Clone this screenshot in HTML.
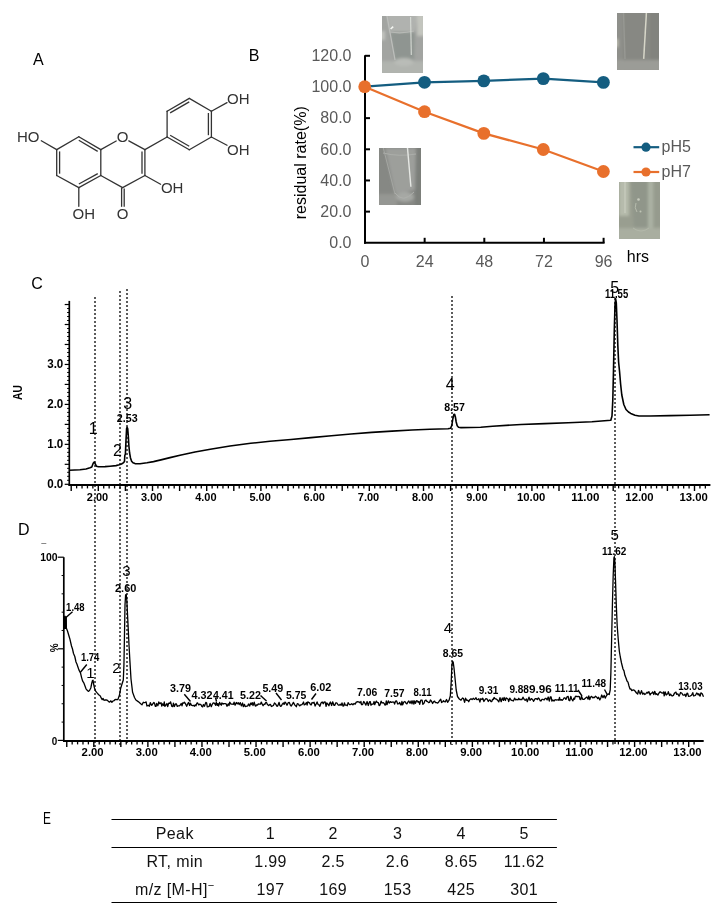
<!DOCTYPE html>
<html><head><meta charset="utf-8"><title>Figure</title>
<style>html,body{margin:0;padding:0;background:#fff;} svg{display:block;font-family:'Liberation Sans', Arial, sans-serif;}</style>
</head><body>
<svg width="719" height="919" viewBox="0 0 719 919">
<rect width="719" height="919" fill="#fff"/>
<text x="33.00" y="64.80" font-size="16" fill="#000" text-anchor="start" font-weight="normal" >A</text>
<line x1="78.80" y1="136.70" x2="100.80" y2="149.60" stroke="#333" stroke-width="1.3" stroke-linecap="round"/>
<line x1="100.80" y1="149.60" x2="100.80" y2="175.50" stroke="#333" stroke-width="1.3" stroke-linecap="round"/>
<line x1="100.80" y1="175.50" x2="78.80" y2="187.60" stroke="#333" stroke-width="1.3" stroke-linecap="round"/>
<line x1="78.80" y1="187.60" x2="56.70" y2="175.50" stroke="#333" stroke-width="1.3" stroke-linecap="round"/>
<line x1="56.70" y1="175.50" x2="56.70" y2="149.60" stroke="#333" stroke-width="1.3" stroke-linecap="round"/>
<line x1="56.70" y1="149.60" x2="78.80" y2="136.70" stroke="#333" stroke-width="1.3" stroke-linecap="round"/>
<line x1="59.60" y1="151.41" x2="59.60" y2="173.69" stroke="#333" stroke-width="1.3" />
<line x1="78.77" y1="140.28" x2="97.69" y2="151.37" stroke="#333" stroke-width="1.3" />
<line x1="78.85" y1="184.04" x2="97.77" y2="173.63" stroke="#333" stroke-width="1.3" />
<line x1="100.80" y1="149.60" x2="116.20" y2="141.00" stroke="#333" stroke-width="1.3" stroke-linecap="round"/>
<line x1="128.80" y1="140.90" x2="144.90" y2="149.60" stroke="#333" stroke-width="1.3" stroke-linecap="round"/>
<line x1="144.90" y1="149.60" x2="144.90" y2="175.50" stroke="#333" stroke-width="1.3" stroke-linecap="round"/>
<line x1="144.90" y1="175.50" x2="122.60" y2="187.60" stroke="#333" stroke-width="1.3" stroke-linecap="round"/>
<line x1="122.60" y1="187.60" x2="100.80" y2="175.50" stroke="#333" stroke-width="1.3" stroke-linecap="round"/>
<line x1="142.00" y1="151.41" x2="142.00" y2="173.69" stroke="#333" stroke-width="1.3" />
<line x1="121.60" y1="187.60" x2="121.60" y2="206.80" stroke="#333" stroke-width="1.3" />
<line x1="124.20" y1="188.60" x2="124.20" y2="206.80" stroke="#333" stroke-width="1.3" />
<line x1="167.10" y1="137.00" x2="167.10" y2="111.20" stroke="#333" stroke-width="1.3" stroke-linecap="round"/>
<line x1="167.10" y1="111.20" x2="189.30" y2="98.40" stroke="#333" stroke-width="1.3" stroke-linecap="round"/>
<line x1="189.30" y1="98.40" x2="211.40" y2="111.20" stroke="#333" stroke-width="1.3" stroke-linecap="round"/>
<line x1="211.40" y1="111.20" x2="211.40" y2="137.00" stroke="#333" stroke-width="1.3" stroke-linecap="round"/>
<line x1="211.40" y1="137.00" x2="189.30" y2="149.80" stroke="#333" stroke-width="1.3" stroke-linecap="round"/>
<line x1="189.30" y1="149.80" x2="167.10" y2="137.00" stroke="#333" stroke-width="1.3" stroke-linecap="round"/>
<line x1="170.15" y1="112.90" x2="189.24" y2="101.89" stroke="#333" stroke-width="1.3" />
<line x1="208.40" y1="113.01" x2="208.40" y2="135.19" stroke="#333" stroke-width="1.3" />
<line x1="189.24" y1="146.31" x2="170.15" y2="135.30" stroke="#333" stroke-width="1.3" />
<line x1="144.90" y1="149.60" x2="167.10" y2="137.00" stroke="#333" stroke-width="1.3" stroke-linecap="round"/>
<line x1="56.70" y1="149.60" x2="41.30" y2="140.80" stroke="#333" stroke-width="1.3" stroke-linecap="round"/>
<line x1="78.80" y1="187.60" x2="78.80" y2="206.30" stroke="#333" stroke-width="1.3" stroke-linecap="round"/>
<line x1="144.90" y1="175.50" x2="160.60" y2="184.30" stroke="#333" stroke-width="1.3" stroke-linecap="round"/>
<line x1="211.40" y1="111.20" x2="227.00" y2="102.60" stroke="#333" stroke-width="1.3" stroke-linecap="round"/>
<line x1="211.40" y1="137.00" x2="227.00" y2="145.30" stroke="#333" stroke-width="1.3" stroke-linecap="round"/>
<text x="17.00" y="142.40" font-size="15" fill="#333" text-anchor="start" font-weight="normal" >HO</text>
<text x="72.60" y="218.80" font-size="15" fill="#333" text-anchor="start" font-weight="normal" >OH</text>
<text x="122.50" y="141.90" font-size="15" fill="#333" text-anchor="middle" font-weight="normal" >O</text>
<text x="122.60" y="218.80" font-size="15" fill="#333" text-anchor="middle" font-weight="normal" >O</text>
<text x="160.90" y="193.10" font-size="15" fill="#333" text-anchor="start" font-weight="normal" >OH</text>
<text x="227.00" y="104.30" font-size="15" fill="#333" text-anchor="start" font-weight="normal" >OH</text>
<text x="227.00" y="155.10" font-size="15" fill="#333" text-anchor="start" font-weight="normal" >OH</text>
<text x="248.80" y="60.90" font-size="16" fill="#000" text-anchor="start" font-weight="normal" >B</text>
<defs><filter id="pb" x="-10%" y="-10%" width="120%" height="120%"><feGaussianBlur stdDeviation="0.7"/></filter><filter id="pb2" x="-10%" y="-10%" width="120%" height="120%"><feGaussianBlur stdDeviation="1.6"/></filter></defs>
<defs><clipPath id="cp1"><rect x="0" y="0" width="41" height="57"/></clipPath></defs>
<g transform="translate(382,16)" clip-path="url(#cp1)"><rect x="-2" y="-2" width="46" height="62" fill="#a2a4a1"/><g filter="url(#pb2)"><rect x="-2" y="15" width="5" height="9" fill="#c2c4c0"/><polygon points="5,-2 36,-2 33,16 8,16" fill="#b0b2af"/><polygon points="8,16 33,16 32,45 13,45" fill="#8f9591"/><rect x="35" y="-2" width="8" height="22" fill="#c3c5be"/><rect x="-2" y="45" width="46" height="14" fill="#b1b4af"/><ellipse cx="22" cy="46" rx="10" ry="4" fill="#b9bcb7"/></g><g filter="url(#pb)"><polyline points="5,0 13,44" fill="none" stroke="#bcbebb" stroke-width="1.3"/><path d="M8,16 Q20,18 32,15" fill="none" stroke="#b8bab6" stroke-width="1.2"/><polyline points="28.6,1 29.3,39" fill="none" stroke="#d8dcd6" stroke-width="1.1"/><polyline points="8.6,13 11.2,10.6" fill="none" stroke="#f4f6f2" stroke-width="1.6"/></g></g>
<defs><clipPath id="cp2"><rect x="0" y="0" width="42" height="57"/></clipPath></defs>
<g transform="translate(379,148)" clip-path="url(#cp2)"><rect x="-2" y="-2" width="47" height="62" fill="#868884"/><g filter="url(#pb2)"><rect x="36" y="-2" width="9" height="62" fill="#7c7f7a"/><polygon points="6,0 37,0 36,42 16,46" fill="#9d9f9b"/><rect x="-2" y="46" width="20" height="13" fill="#959793"/><ellipse cx="26" cy="49" rx="9" ry="5" fill="#a6a8a4"/></g><g filter="url(#pb)"><path d="M4,5 Q20,9 37,6" fill="none" stroke="#acaeaa" stroke-width="1.0"/><polyline points="4.3,0 16,46" fill="none" stroke="#a4a6a2" stroke-width="1.0"/><polyline points="28.5,0 31.9,38.8" fill="none" stroke="#e6e8e4" stroke-width="1.4"/><path d="M16,45 Q24,56 35,44" fill="none" stroke="#aeb0ac" stroke-width="1.0"/></g></g>
<defs><clipPath id="cp3"><rect x="0" y="0" width="42" height="57"/></clipPath></defs>
<g transform="translate(617,13)" clip-path="url(#cp3)"><rect x="-2" y="-2" width="47" height="62" fill="#878883"/><g filter="url(#pb2)"><rect x="-2" y="-2" width="8" height="62" fill="#8f908b"/><rect x="-2" y="26" width="3" height="8" fill="#c5c5b6"/><rect x="33" y="-2" width="11" height="62" fill="#82837e"/><rect x="-2" y="47" width="47" height="12" fill="#9b9c97"/></g><g filter="url(#pb)"><polyline points="6.5,0 8,46" fill="none" stroke="#979893" stroke-width="1.4"/><polyline points="29.4,0 26.7,45.9" fill="none" stroke="#d6d6c8" stroke-width="1.5"/></g></g>
<defs><clipPath id="cp4"><rect x="0" y="0" width="41" height="57"/></clipPath></defs>
<g transform="translate(619,182)" clip-path="url(#cp4)"><rect x="-2" y="-2" width="46" height="62" fill="#999e90"/><g filter="url(#pb2)"><rect x="0" y="-2" width="10" height="36" fill="#b6bbac"/><polygon points="12,-2 29,-2 29,46 15,46" fill="#90968a"/><rect x="29" y="-2" width="5" height="50" fill="#acb2a4"/><rect x="35" y="-2" width="9" height="50" fill="#969b8e"/><rect x="-2" y="46" width="46" height="13" fill="#a9aea0"/></g><g filter="url(#pb)"><polyline points="6,0 6,31" fill="none" stroke="#c6cbbc" stroke-width="1.4"/><circle cx="19.5" cy="17.5" r="1.3" fill="#c9cdbf"/><path d="M17,21 Q15,26 18,30" fill="none" stroke="#b6bbad" stroke-width="1"/><circle cx="21.5" cy="29.5" r="1" fill="#c0c5b6"/><path d="M14,46 Q22,52 30,46" fill="none" stroke="#b3b8aa" stroke-width="1"/></g></g>
<line x1="365.00" y1="55.30" x2="365.00" y2="243.80" stroke="#000" stroke-width="2.0" />
<line x1="364.00" y1="242.80" x2="604.60" y2="242.80" stroke="#000" stroke-width="2.0" />
<line x1="365.00" y1="211.63" x2="370.00" y2="211.63" stroke="#000" stroke-width="2.0" />
<line x1="365.00" y1="180.47" x2="370.00" y2="180.47" stroke="#000" stroke-width="2.0" />
<line x1="365.00" y1="149.30" x2="370.00" y2="149.30" stroke="#000" stroke-width="2.0" />
<line x1="365.00" y1="118.13" x2="370.00" y2="118.13" stroke="#000" stroke-width="2.0" />
<line x1="365.00" y1="86.97" x2="370.00" y2="86.97" stroke="#000" stroke-width="2.0" />
<line x1="365.00" y1="55.80" x2="370.00" y2="55.80" stroke="#000" stroke-width="2.0" />
<line x1="424.65" y1="242.80" x2="424.65" y2="237.80" stroke="#000" stroke-width="2.0" />
<line x1="484.30" y1="242.80" x2="484.30" y2="237.80" stroke="#000" stroke-width="2.0" />
<line x1="543.95" y1="242.80" x2="543.95" y2="237.80" stroke="#000" stroke-width="2.0" />
<line x1="603.60" y1="242.80" x2="603.60" y2="237.80" stroke="#000" stroke-width="2.0" />
<text x="351.50" y="248.10" font-size="16" fill="#595959" text-anchor="end" font-weight="normal" >0.0</text>
<text x="351.50" y="216.93" font-size="16" fill="#595959" text-anchor="end" font-weight="normal" >20.0</text>
<text x="351.50" y="185.77" font-size="16" fill="#595959" text-anchor="end" font-weight="normal" >40.0</text>
<text x="351.50" y="154.60" font-size="16" fill="#595959" text-anchor="end" font-weight="normal" >60.0</text>
<text x="351.50" y="123.43" font-size="16" fill="#595959" text-anchor="end" font-weight="normal" >80.0</text>
<text x="351.50" y="92.27" font-size="16" fill="#595959" text-anchor="end" font-weight="normal" >100.0</text>
<text x="351.50" y="61.10" font-size="16" fill="#595959" text-anchor="end" font-weight="normal" >120.0</text>
<text x="365.00" y="266.50" font-size="16" fill="#595959" text-anchor="middle" font-weight="normal" >0</text>
<text x="424.65" y="266.50" font-size="16" fill="#595959" text-anchor="middle" font-weight="normal" >24</text>
<text x="484.30" y="266.50" font-size="16" fill="#595959" text-anchor="middle" font-weight="normal" >48</text>
<text x="543.95" y="266.50" font-size="16" fill="#595959" text-anchor="middle" font-weight="normal" >72</text>
<text x="603.60" y="266.50" font-size="16" fill="#595959" text-anchor="middle" font-weight="normal" >96</text>
<text x="626.80" y="261.80" font-size="16" fill="#000" text-anchor="start" font-weight="normal" >hrs</text>
<text x="0" y="0" font-size="16" fill="#000" text-anchor="middle" transform="translate(306.2,162.75) rotate(-90)">residual rate(%)</text>
<polyline points="364.7,86.7 424.5,82.3 483.8,80.9 543.3,78.6 603.4,82.4" fill="none" stroke="#145d80" stroke-width="2.2"/>
<circle cx="424.5" cy="82.3" r="6.4" fill="#145d80"/>
<circle cx="483.8" cy="80.9" r="6.4" fill="#145d80"/>
<circle cx="543.3" cy="78.6" r="6.4" fill="#145d80"/>
<circle cx="603.4" cy="82.4" r="6.4" fill="#145d80"/>
<polyline points="364.7,86.7 424.5,111.7 483.8,133.4 543.3,149.5 603.4,171.5" fill="none" stroke="#e8702c" stroke-width="2.2"/>
<circle cx="364.7" cy="86.7" r="6.4" fill="#e8702c"/>
<circle cx="424.5" cy="111.7" r="6.4" fill="#e8702c"/>
<circle cx="483.8" cy="133.4" r="6.4" fill="#e8702c"/>
<circle cx="543.3" cy="149.5" r="6.4" fill="#e8702c"/>
<circle cx="603.4" cy="171.5" r="6.4" fill="#e8702c"/>
<line x1="633.50" y1="147.20" x2="659.20" y2="147.20" stroke="#145d80" stroke-width="2.2" />
<circle cx="646" cy="147.2" r="4.6" fill="#145d80"/>
<line x1="633.50" y1="172.00" x2="659.20" y2="172.00" stroke="#e8702c" stroke-width="2.2" />
<circle cx="646" cy="172.0" r="4.6" fill="#e8702c"/>
<text x="661.60" y="151.80" font-size="16" fill="#595959" text-anchor="start" font-weight="normal" >pH5</text>
<text x="661.60" y="177.40" font-size="16" fill="#595959" text-anchor="start" font-weight="normal" >pH7</text>
<text x="31.30" y="288.90" font-size="16" fill="#000" text-anchor="start" font-weight="normal" >C</text>
<line x1="95.0" y1="297" x2="95.0" y2="747" stroke="#5c5c5c" stroke-width="2" stroke-dasharray="2 2"/>
<line x1="120.0" y1="291" x2="120.0" y2="747" stroke="#5c5c5c" stroke-width="2" stroke-dasharray="2 2"/>
<line x1="127.0" y1="289" x2="127.0" y2="743" stroke="#5c5c5c" stroke-width="2" stroke-dasharray="2 2"/>
<line x1="452.0" y1="296" x2="452.0" y2="745" stroke="#5c5c5c" stroke-width="2" stroke-dasharray="2 2"/>
<line x1="615.0" y1="298" x2="615.0" y2="746" stroke="#5c5c5c" stroke-width="2" stroke-dasharray="2 2"/>
<line x1="69.30" y1="300.90" x2="69.30" y2="485.90" stroke="#000" stroke-width="1.7" />
<line x1="68.50" y1="485.00" x2="710.40" y2="485.00" stroke="#000" stroke-width="1.9" />
<line x1="64.70" y1="484.30" x2="69.30" y2="484.30" stroke="#000" stroke-width="1.2" />
<line x1="67.10" y1="480.31" x2="69.30" y2="480.31" stroke="#000" stroke-width="1.0" />
<line x1="67.10" y1="476.31" x2="69.30" y2="476.31" stroke="#000" stroke-width="1.0" />
<line x1="67.10" y1="472.31" x2="69.30" y2="472.31" stroke="#000" stroke-width="1.0" />
<line x1="67.10" y1="468.32" x2="69.30" y2="468.32" stroke="#000" stroke-width="1.0" />
<line x1="64.70" y1="464.32" x2="69.30" y2="464.32" stroke="#000" stroke-width="1.2" />
<line x1="67.10" y1="460.33" x2="69.30" y2="460.33" stroke="#000" stroke-width="1.0" />
<line x1="67.10" y1="456.34" x2="69.30" y2="456.34" stroke="#000" stroke-width="1.0" />
<line x1="67.10" y1="452.34" x2="69.30" y2="452.34" stroke="#000" stroke-width="1.0" />
<line x1="67.10" y1="448.35" x2="69.30" y2="448.35" stroke="#000" stroke-width="1.0" />
<line x1="64.70" y1="444.35" x2="69.30" y2="444.35" stroke="#000" stroke-width="1.2" />
<line x1="67.10" y1="440.36" x2="69.30" y2="440.36" stroke="#000" stroke-width="1.0" />
<line x1="67.10" y1="436.36" x2="69.30" y2="436.36" stroke="#000" stroke-width="1.0" />
<line x1="67.10" y1="432.37" x2="69.30" y2="432.37" stroke="#000" stroke-width="1.0" />
<line x1="67.10" y1="428.37" x2="69.30" y2="428.37" stroke="#000" stroke-width="1.0" />
<line x1="64.70" y1="424.38" x2="69.30" y2="424.38" stroke="#000" stroke-width="1.2" />
<line x1="67.10" y1="420.38" x2="69.30" y2="420.38" stroke="#000" stroke-width="1.0" />
<line x1="67.10" y1="416.38" x2="69.30" y2="416.38" stroke="#000" stroke-width="1.0" />
<line x1="67.10" y1="412.39" x2="69.30" y2="412.39" stroke="#000" stroke-width="1.0" />
<line x1="67.10" y1="408.39" x2="69.30" y2="408.39" stroke="#000" stroke-width="1.0" />
<line x1="64.70" y1="404.40" x2="69.30" y2="404.40" stroke="#000" stroke-width="1.2" />
<line x1="67.10" y1="400.40" x2="69.30" y2="400.40" stroke="#000" stroke-width="1.0" />
<line x1="67.10" y1="396.41" x2="69.30" y2="396.41" stroke="#000" stroke-width="1.0" />
<line x1="67.10" y1="392.41" x2="69.30" y2="392.41" stroke="#000" stroke-width="1.0" />
<line x1="67.10" y1="388.42" x2="69.30" y2="388.42" stroke="#000" stroke-width="1.0" />
<line x1="64.70" y1="384.42" x2="69.30" y2="384.42" stroke="#000" stroke-width="1.2" />
<line x1="67.10" y1="380.43" x2="69.30" y2="380.43" stroke="#000" stroke-width="1.0" />
<line x1="67.10" y1="376.43" x2="69.30" y2="376.43" stroke="#000" stroke-width="1.0" />
<line x1="67.10" y1="372.44" x2="69.30" y2="372.44" stroke="#000" stroke-width="1.0" />
<line x1="67.10" y1="368.44" x2="69.30" y2="368.44" stroke="#000" stroke-width="1.0" />
<line x1="64.70" y1="364.45" x2="69.30" y2="364.45" stroke="#000" stroke-width="1.2" />
<line x1="67.10" y1="360.45" x2="69.30" y2="360.45" stroke="#000" stroke-width="1.0" />
<line x1="67.10" y1="356.46" x2="69.30" y2="356.46" stroke="#000" stroke-width="1.0" />
<line x1="67.10" y1="352.46" x2="69.30" y2="352.46" stroke="#000" stroke-width="1.0" />
<line x1="67.10" y1="348.47" x2="69.30" y2="348.47" stroke="#000" stroke-width="1.0" />
<line x1="64.70" y1="344.47" x2="69.30" y2="344.47" stroke="#000" stroke-width="1.2" />
<line x1="67.10" y1="340.48" x2="69.30" y2="340.48" stroke="#000" stroke-width="1.0" />
<line x1="67.10" y1="336.48" x2="69.30" y2="336.48" stroke="#000" stroke-width="1.0" />
<line x1="67.10" y1="332.49" x2="69.30" y2="332.49" stroke="#000" stroke-width="1.0" />
<line x1="67.10" y1="328.49" x2="69.30" y2="328.49" stroke="#000" stroke-width="1.0" />
<line x1="64.70" y1="324.50" x2="69.30" y2="324.50" stroke="#000" stroke-width="1.2" />
<line x1="67.10" y1="320.50" x2="69.30" y2="320.50" stroke="#000" stroke-width="1.0" />
<line x1="67.10" y1="316.51" x2="69.30" y2="316.51" stroke="#000" stroke-width="1.0" />
<line x1="67.10" y1="312.51" x2="69.30" y2="312.51" stroke="#000" stroke-width="1.0" />
<line x1="67.10" y1="308.52" x2="69.30" y2="308.52" stroke="#000" stroke-width="1.0" />
<line x1="64.70" y1="304.52" x2="69.30" y2="304.52" stroke="#000" stroke-width="1.2" />
<text x="47.20" y="488.10" font-size="12" fill="#000" font-weight="bold" textLength="16.10" lengthAdjust="spacingAndGlyphs">0.0</text>
<text x="47.20" y="448.15" font-size="12" fill="#000" font-weight="bold" textLength="16.10" lengthAdjust="spacingAndGlyphs">1.0</text>
<text x="47.20" y="408.20" font-size="12" fill="#000" font-weight="bold" textLength="16.10" lengthAdjust="spacingAndGlyphs">2.0</text>
<text x="47.20" y="368.25" font-size="12" fill="#000" font-weight="bold" textLength="16.10" lengthAdjust="spacingAndGlyphs">3.0</text>
<text x="0" y="0" font-size="12" font-weight="bold" fill="#000" text-anchor="middle" textLength="15" lengthAdjust="spacingAndGlyphs" transform="translate(22.2,392.4) rotate(-90)">AU</text>
<line x1="71.20" y1="485.00" x2="71.20" y2="491.00" stroke="#000" stroke-width="1.4" />
<line x1="76.62" y1="485.00" x2="76.62" y2="488.40" stroke="#000" stroke-width="1.3" />
<line x1="82.04" y1="485.00" x2="82.04" y2="488.40" stroke="#000" stroke-width="1.3" />
<line x1="87.46" y1="485.00" x2="87.46" y2="488.40" stroke="#000" stroke-width="1.3" />
<line x1="92.88" y1="485.00" x2="92.88" y2="488.40" stroke="#000" stroke-width="1.3" />
<line x1="98.30" y1="485.00" x2="98.30" y2="491.00" stroke="#000" stroke-width="1.4" />
<line x1="103.72" y1="485.00" x2="103.72" y2="488.40" stroke="#000" stroke-width="1.3" />
<line x1="109.14" y1="485.00" x2="109.14" y2="488.40" stroke="#000" stroke-width="1.3" />
<line x1="114.56" y1="485.00" x2="114.56" y2="488.40" stroke="#000" stroke-width="1.3" />
<line x1="119.98" y1="485.00" x2="119.98" y2="488.40" stroke="#000" stroke-width="1.3" />
<line x1="125.40" y1="485.00" x2="125.40" y2="491.00" stroke="#000" stroke-width="1.4" />
<line x1="130.82" y1="485.00" x2="130.82" y2="488.40" stroke="#000" stroke-width="1.3" />
<line x1="136.24" y1="485.00" x2="136.24" y2="488.40" stroke="#000" stroke-width="1.3" />
<line x1="141.66" y1="485.00" x2="141.66" y2="488.40" stroke="#000" stroke-width="1.3" />
<line x1="147.08" y1="485.00" x2="147.08" y2="488.40" stroke="#000" stroke-width="1.3" />
<line x1="152.50" y1="485.00" x2="152.50" y2="491.00" stroke="#000" stroke-width="1.4" />
<line x1="157.92" y1="485.00" x2="157.92" y2="488.40" stroke="#000" stroke-width="1.3" />
<line x1="163.34" y1="485.00" x2="163.34" y2="488.40" stroke="#000" stroke-width="1.3" />
<line x1="168.76" y1="485.00" x2="168.76" y2="488.40" stroke="#000" stroke-width="1.3" />
<line x1="174.18" y1="485.00" x2="174.18" y2="488.40" stroke="#000" stroke-width="1.3" />
<line x1="179.60" y1="485.00" x2="179.60" y2="491.00" stroke="#000" stroke-width="1.4" />
<line x1="185.02" y1="485.00" x2="185.02" y2="488.40" stroke="#000" stroke-width="1.3" />
<line x1="190.44" y1="485.00" x2="190.44" y2="488.40" stroke="#000" stroke-width="1.3" />
<line x1="195.86" y1="485.00" x2="195.86" y2="488.40" stroke="#000" stroke-width="1.3" />
<line x1="201.28" y1="485.00" x2="201.28" y2="488.40" stroke="#000" stroke-width="1.3" />
<line x1="206.70" y1="485.00" x2="206.70" y2="491.00" stroke="#000" stroke-width="1.4" />
<line x1="212.12" y1="485.00" x2="212.12" y2="488.40" stroke="#000" stroke-width="1.3" />
<line x1="217.54" y1="485.00" x2="217.54" y2="488.40" stroke="#000" stroke-width="1.3" />
<line x1="222.96" y1="485.00" x2="222.96" y2="488.40" stroke="#000" stroke-width="1.3" />
<line x1="228.38" y1="485.00" x2="228.38" y2="488.40" stroke="#000" stroke-width="1.3" />
<line x1="233.80" y1="485.00" x2="233.80" y2="491.00" stroke="#000" stroke-width="1.4" />
<line x1="239.22" y1="485.00" x2="239.22" y2="488.40" stroke="#000" stroke-width="1.3" />
<line x1="244.64" y1="485.00" x2="244.64" y2="488.40" stroke="#000" stroke-width="1.3" />
<line x1="250.06" y1="485.00" x2="250.06" y2="488.40" stroke="#000" stroke-width="1.3" />
<line x1="255.48" y1="485.00" x2="255.48" y2="488.40" stroke="#000" stroke-width="1.3" />
<line x1="260.90" y1="485.00" x2="260.90" y2="491.00" stroke="#000" stroke-width="1.4" />
<line x1="266.32" y1="485.00" x2="266.32" y2="488.40" stroke="#000" stroke-width="1.3" />
<line x1="271.74" y1="485.00" x2="271.74" y2="488.40" stroke="#000" stroke-width="1.3" />
<line x1="277.16" y1="485.00" x2="277.16" y2="488.40" stroke="#000" stroke-width="1.3" />
<line x1="282.58" y1="485.00" x2="282.58" y2="488.40" stroke="#000" stroke-width="1.3" />
<line x1="288.00" y1="485.00" x2="288.00" y2="491.00" stroke="#000" stroke-width="1.4" />
<line x1="293.42" y1="485.00" x2="293.42" y2="488.40" stroke="#000" stroke-width="1.3" />
<line x1="298.84" y1="485.00" x2="298.84" y2="488.40" stroke="#000" stroke-width="1.3" />
<line x1="304.26" y1="485.00" x2="304.26" y2="488.40" stroke="#000" stroke-width="1.3" />
<line x1="309.68" y1="485.00" x2="309.68" y2="488.40" stroke="#000" stroke-width="1.3" />
<line x1="315.10" y1="485.00" x2="315.10" y2="491.00" stroke="#000" stroke-width="1.4" />
<line x1="320.52" y1="485.00" x2="320.52" y2="488.40" stroke="#000" stroke-width="1.3" />
<line x1="325.94" y1="485.00" x2="325.94" y2="488.40" stroke="#000" stroke-width="1.3" />
<line x1="331.36" y1="485.00" x2="331.36" y2="488.40" stroke="#000" stroke-width="1.3" />
<line x1="336.78" y1="485.00" x2="336.78" y2="488.40" stroke="#000" stroke-width="1.3" />
<line x1="342.20" y1="485.00" x2="342.20" y2="491.00" stroke="#000" stroke-width="1.4" />
<line x1="347.62" y1="485.00" x2="347.62" y2="488.40" stroke="#000" stroke-width="1.3" />
<line x1="353.04" y1="485.00" x2="353.04" y2="488.40" stroke="#000" stroke-width="1.3" />
<line x1="358.46" y1="485.00" x2="358.46" y2="488.40" stroke="#000" stroke-width="1.3" />
<line x1="363.88" y1="485.00" x2="363.88" y2="488.40" stroke="#000" stroke-width="1.3" />
<line x1="369.30" y1="485.00" x2="369.30" y2="491.00" stroke="#000" stroke-width="1.4" />
<line x1="374.72" y1="485.00" x2="374.72" y2="488.40" stroke="#000" stroke-width="1.3" />
<line x1="380.14" y1="485.00" x2="380.14" y2="488.40" stroke="#000" stroke-width="1.3" />
<line x1="385.56" y1="485.00" x2="385.56" y2="488.40" stroke="#000" stroke-width="1.3" />
<line x1="390.98" y1="485.00" x2="390.98" y2="488.40" stroke="#000" stroke-width="1.3" />
<line x1="396.40" y1="485.00" x2="396.40" y2="491.00" stroke="#000" stroke-width="1.4" />
<line x1="401.82" y1="485.00" x2="401.82" y2="488.40" stroke="#000" stroke-width="1.3" />
<line x1="407.24" y1="485.00" x2="407.24" y2="488.40" stroke="#000" stroke-width="1.3" />
<line x1="412.66" y1="485.00" x2="412.66" y2="488.40" stroke="#000" stroke-width="1.3" />
<line x1="418.08" y1="485.00" x2="418.08" y2="488.40" stroke="#000" stroke-width="1.3" />
<line x1="423.50" y1="485.00" x2="423.50" y2="491.00" stroke="#000" stroke-width="1.4" />
<line x1="428.92" y1="485.00" x2="428.92" y2="488.40" stroke="#000" stroke-width="1.3" />
<line x1="434.34" y1="485.00" x2="434.34" y2="488.40" stroke="#000" stroke-width="1.3" />
<line x1="439.76" y1="485.00" x2="439.76" y2="488.40" stroke="#000" stroke-width="1.3" />
<line x1="445.18" y1="485.00" x2="445.18" y2="488.40" stroke="#000" stroke-width="1.3" />
<line x1="450.60" y1="485.00" x2="450.60" y2="491.00" stroke="#000" stroke-width="1.4" />
<line x1="456.02" y1="485.00" x2="456.02" y2="488.40" stroke="#000" stroke-width="1.3" />
<line x1="461.44" y1="485.00" x2="461.44" y2="488.40" stroke="#000" stroke-width="1.3" />
<line x1="466.86" y1="485.00" x2="466.86" y2="488.40" stroke="#000" stroke-width="1.3" />
<line x1="472.28" y1="485.00" x2="472.28" y2="488.40" stroke="#000" stroke-width="1.3" />
<line x1="477.70" y1="485.00" x2="477.70" y2="491.00" stroke="#000" stroke-width="1.4" />
<line x1="483.12" y1="485.00" x2="483.12" y2="488.40" stroke="#000" stroke-width="1.3" />
<line x1="488.54" y1="485.00" x2="488.54" y2="488.40" stroke="#000" stroke-width="1.3" />
<line x1="493.96" y1="485.00" x2="493.96" y2="488.40" stroke="#000" stroke-width="1.3" />
<line x1="499.38" y1="485.00" x2="499.38" y2="488.40" stroke="#000" stroke-width="1.3" />
<line x1="504.80" y1="485.00" x2="504.80" y2="491.00" stroke="#000" stroke-width="1.4" />
<line x1="510.22" y1="485.00" x2="510.22" y2="488.40" stroke="#000" stroke-width="1.3" />
<line x1="515.64" y1="485.00" x2="515.64" y2="488.40" stroke="#000" stroke-width="1.3" />
<line x1="521.06" y1="485.00" x2="521.06" y2="488.40" stroke="#000" stroke-width="1.3" />
<line x1="526.48" y1="485.00" x2="526.48" y2="488.40" stroke="#000" stroke-width="1.3" />
<line x1="531.90" y1="485.00" x2="531.90" y2="491.00" stroke="#000" stroke-width="1.4" />
<line x1="537.32" y1="485.00" x2="537.32" y2="488.40" stroke="#000" stroke-width="1.3" />
<line x1="542.74" y1="485.00" x2="542.74" y2="488.40" stroke="#000" stroke-width="1.3" />
<line x1="548.16" y1="485.00" x2="548.16" y2="488.40" stroke="#000" stroke-width="1.3" />
<line x1="553.58" y1="485.00" x2="553.58" y2="488.40" stroke="#000" stroke-width="1.3" />
<line x1="559.00" y1="485.00" x2="559.00" y2="491.00" stroke="#000" stroke-width="1.4" />
<line x1="564.42" y1="485.00" x2="564.42" y2="488.40" stroke="#000" stroke-width="1.3" />
<line x1="569.84" y1="485.00" x2="569.84" y2="488.40" stroke="#000" stroke-width="1.3" />
<line x1="575.26" y1="485.00" x2="575.26" y2="488.40" stroke="#000" stroke-width="1.3" />
<line x1="580.68" y1="485.00" x2="580.68" y2="488.40" stroke="#000" stroke-width="1.3" />
<line x1="586.10" y1="485.00" x2="586.10" y2="491.00" stroke="#000" stroke-width="1.4" />
<line x1="591.52" y1="485.00" x2="591.52" y2="488.40" stroke="#000" stroke-width="1.3" />
<line x1="596.94" y1="485.00" x2="596.94" y2="488.40" stroke="#000" stroke-width="1.3" />
<line x1="602.36" y1="485.00" x2="602.36" y2="488.40" stroke="#000" stroke-width="1.3" />
<line x1="607.78" y1="485.00" x2="607.78" y2="488.40" stroke="#000" stroke-width="1.3" />
<line x1="613.20" y1="485.00" x2="613.20" y2="491.00" stroke="#000" stroke-width="1.4" />
<line x1="618.62" y1="485.00" x2="618.62" y2="488.40" stroke="#000" stroke-width="1.3" />
<line x1="624.04" y1="485.00" x2="624.04" y2="488.40" stroke="#000" stroke-width="1.3" />
<line x1="629.46" y1="485.00" x2="629.46" y2="488.40" stroke="#000" stroke-width="1.3" />
<line x1="634.88" y1="485.00" x2="634.88" y2="488.40" stroke="#000" stroke-width="1.3" />
<line x1="640.30" y1="485.00" x2="640.30" y2="491.00" stroke="#000" stroke-width="1.4" />
<line x1="645.72" y1="485.00" x2="645.72" y2="488.40" stroke="#000" stroke-width="1.3" />
<line x1="651.14" y1="485.00" x2="651.14" y2="488.40" stroke="#000" stroke-width="1.3" />
<line x1="656.56" y1="485.00" x2="656.56" y2="488.40" stroke="#000" stroke-width="1.3" />
<line x1="661.98" y1="485.00" x2="661.98" y2="488.40" stroke="#000" stroke-width="1.3" />
<line x1="667.40" y1="485.00" x2="667.40" y2="491.00" stroke="#000" stroke-width="1.4" />
<line x1="672.82" y1="485.00" x2="672.82" y2="488.40" stroke="#000" stroke-width="1.3" />
<line x1="678.24" y1="485.00" x2="678.24" y2="488.40" stroke="#000" stroke-width="1.3" />
<line x1="683.66" y1="485.00" x2="683.66" y2="488.40" stroke="#000" stroke-width="1.3" />
<line x1="689.08" y1="485.00" x2="689.08" y2="488.40" stroke="#000" stroke-width="1.3" />
<line x1="694.50" y1="485.00" x2="694.50" y2="491.00" stroke="#000" stroke-width="1.4" />
<line x1="699.92" y1="485.00" x2="699.92" y2="488.40" stroke="#000" stroke-width="1.3" />
<line x1="705.34" y1="485.00" x2="705.34" y2="488.40" stroke="#000" stroke-width="1.3" />
<text x="86.80" y="500.90" font-size="11" fill="#000" font-weight="bold" textLength="21.40" lengthAdjust="spacingAndGlyphs">2.00</text>
<text x="141.00" y="500.90" font-size="11" fill="#000" font-weight="bold" textLength="21.40" lengthAdjust="spacingAndGlyphs">3.00</text>
<text x="195.20" y="500.90" font-size="11" fill="#000" font-weight="bold" textLength="21.40" lengthAdjust="spacingAndGlyphs">4.00</text>
<text x="249.40" y="500.90" font-size="11" fill="#000" font-weight="bold" textLength="21.40" lengthAdjust="spacingAndGlyphs">5.00</text>
<text x="303.60" y="500.90" font-size="11" fill="#000" font-weight="bold" textLength="21.40" lengthAdjust="spacingAndGlyphs">6.00</text>
<text x="357.80" y="500.90" font-size="11" fill="#000" font-weight="bold" textLength="21.40" lengthAdjust="spacingAndGlyphs">7.00</text>
<text x="412.00" y="500.90" font-size="11" fill="#000" font-weight="bold" textLength="21.40" lengthAdjust="spacingAndGlyphs">8.00</text>
<text x="466.20" y="500.90" font-size="11" fill="#000" font-weight="bold" textLength="21.40" lengthAdjust="spacingAndGlyphs">9.00</text>
<text x="516.95" y="500.90" font-size="11" fill="#000" font-weight="bold" textLength="28.30" lengthAdjust="spacingAndGlyphs">10.00</text>
<text x="571.15" y="500.90" font-size="11" fill="#000" font-weight="bold" textLength="28.30" lengthAdjust="spacingAndGlyphs">11.00</text>
<text x="625.35" y="500.90" font-size="11" fill="#000" font-weight="bold" textLength="28.30" lengthAdjust="spacingAndGlyphs">12.00</text>
<text x="679.55" y="500.90" font-size="11" fill="#000" font-weight="bold" textLength="28.30" lengthAdjust="spacingAndGlyphs">13.00</text>
<polyline points="69.3,470.3 80.0,469.7 86.0,469.0 90.0,467.8 91.8,467.0 93.2,463.2 94.2,462.0 95.0,463.4 96.4,466.2 98.5,466.8 105.0,466.6 110.0,466.2 116.0,465.6 119.3,464.8 121.5,464.0 123.6,462.6 124.5,461.5 124.8,455.5 125.4,454.0 126.0,440.0 126.6,428.5 127.1,427.3 127.7,428.5 128.3,436.0 128.9,446.0 129.6,453.0 130.5,458.0 131.6,461.2 133.0,462.8 135.0,463.6 140.0,463.7 147.0,462.8 153.5,461.6 162.0,459.6 170.0,457.6 180.0,455.2 195.0,452.0 210.3,449.2 230.0,446.0 250.7,443.3 270.0,441.3 291.0,439.5 311.0,437.6 331.4,435.7 351.0,434.0 371.7,432.4 392.0,431.1 412.0,430.0 430.0,429.3 448.0,428.7 450.5,428.3 451.8,425.5 452.8,419.0 453.8,414.6 454.6,414.3 455.4,417.0 456.2,422.0 457.2,425.8 458.5,427.2 461.0,427.6 480.7,427.3 492.6,426.2 521.0,424.5 544.6,423.6 568.2,422.7 591.9,421.8 610.8,420.3 612.0,416.0 612.8,400.0 613.5,370.0 614.3,330.0 615.0,305.0 615.6,298.6 616.3,303.0 617.0,320.0 617.8,345.0 618.6,362.0 619.6,372.0 620.6,384.0 621.8,395.0 623.8,404.5 626.0,409.5 628.5,412.0 630.7,413.4 635.0,415.2 639.0,416.0 650.0,416.0 670.0,415.6 690.0,415.2 709.6,414.8" fill="none" stroke="#000" stroke-width="1.6" stroke-linejoin="round"/>
<text x="93.20" y="433.90" font-size="16" fill="#000" text-anchor="middle" font-weight="normal" >1</text>
<text x="117.50" y="456.10" font-size="16" fill="#000" text-anchor="middle" font-weight="normal" >2</text>
<text x="127.60" y="409.00" font-size="16" fill="#000" text-anchor="middle" font-weight="normal" >3</text>
<text x="450.30" y="389.60" font-size="16" fill="#000" text-anchor="middle" font-weight="normal" >4</text>
<text x="614.70" y="293.20" font-size="16" fill="#000" text-anchor="middle" font-weight="normal" >5</text>
<text x="116.80" y="421.80" font-size="11" fill="#000" font-weight="bold" textLength="20.80" lengthAdjust="spacingAndGlyphs">2.53</text>
<text x="444.20" y="410.60" font-size="11" fill="#000" font-weight="bold" textLength="20.60" lengthAdjust="spacingAndGlyphs">8.57</text>
<text x="604.90" y="298.40" font-size="12" fill="#000" font-weight="bold" textLength="23.30" lengthAdjust="spacingAndGlyphs">11.55</text>
<text x="17.90" y="534.90" font-size="16" fill="#000" text-anchor="start" font-weight="normal" >D</text>
<line x1="41.30" y1="543.50" x2="46.30" y2="543.50" stroke="#888" stroke-width="1.0" />
<line x1="63.80" y1="557.20" x2="63.80" y2="741.90" stroke="#000" stroke-width="1.7" />
<line x1="63.00" y1="741.00" x2="703.70" y2="741.00" stroke="#000" stroke-width="1.9" />
<line x1="57.80" y1="740.40" x2="63.80" y2="740.40" stroke="#000" stroke-width="1.2" />
<line x1="61.60" y1="722.08" x2="63.80" y2="722.08" stroke="#000" stroke-width="1.0" />
<line x1="61.60" y1="703.76" x2="63.80" y2="703.76" stroke="#000" stroke-width="1.0" />
<line x1="61.60" y1="685.44" x2="63.80" y2="685.44" stroke="#000" stroke-width="1.0" />
<line x1="61.60" y1="667.12" x2="63.80" y2="667.12" stroke="#000" stroke-width="1.0" />
<line x1="57.80" y1="648.80" x2="63.80" y2="648.80" stroke="#000" stroke-width="1.2" />
<line x1="61.60" y1="630.48" x2="63.80" y2="630.48" stroke="#000" stroke-width="1.0" />
<line x1="61.60" y1="612.16" x2="63.80" y2="612.16" stroke="#000" stroke-width="1.0" />
<line x1="61.60" y1="593.84" x2="63.80" y2="593.84" stroke="#000" stroke-width="1.0" />
<line x1="61.60" y1="575.52" x2="63.80" y2="575.52" stroke="#000" stroke-width="1.0" />
<line x1="57.80" y1="557.20" x2="63.80" y2="557.20" stroke="#000" stroke-width="1.2" />
<text x="40.20" y="561.40" font-size="11.5" fill="#000" font-weight="bold" textLength="17.40" lengthAdjust="spacingAndGlyphs">100</text>
<text x="51.80" y="744.60" font-size="11.5" fill="#000" font-weight="bold" textLength="5.50" lengthAdjust="spacingAndGlyphs">0</text>
<text x="0" y="0" font-size="10" font-weight="bold" fill="#000" text-anchor="middle" transform="translate(58.2,647.8) rotate(-90)">%</text>
<line x1="66.76" y1="741.00" x2="66.76" y2="747.00" stroke="#000" stroke-width="1.4" />
<line x1="72.17" y1="741.00" x2="72.17" y2="744.40" stroke="#000" stroke-width="1.3" />
<line x1="77.58" y1="741.00" x2="77.58" y2="744.40" stroke="#000" stroke-width="1.3" />
<line x1="82.98" y1="741.00" x2="82.98" y2="744.40" stroke="#000" stroke-width="1.3" />
<line x1="88.39" y1="741.00" x2="88.39" y2="744.40" stroke="#000" stroke-width="1.3" />
<line x1="93.80" y1="741.00" x2="93.80" y2="747.00" stroke="#000" stroke-width="1.4" />
<line x1="99.21" y1="741.00" x2="99.21" y2="744.40" stroke="#000" stroke-width="1.3" />
<line x1="104.62" y1="741.00" x2="104.62" y2="744.40" stroke="#000" stroke-width="1.3" />
<line x1="110.02" y1="741.00" x2="110.02" y2="744.40" stroke="#000" stroke-width="1.3" />
<line x1="115.43" y1="741.00" x2="115.43" y2="744.40" stroke="#000" stroke-width="1.3" />
<line x1="120.84" y1="741.00" x2="120.84" y2="747.00" stroke="#000" stroke-width="1.4" />
<line x1="126.25" y1="741.00" x2="126.25" y2="744.40" stroke="#000" stroke-width="1.3" />
<line x1="131.66" y1="741.00" x2="131.66" y2="744.40" stroke="#000" stroke-width="1.3" />
<line x1="137.06" y1="741.00" x2="137.06" y2="744.40" stroke="#000" stroke-width="1.3" />
<line x1="142.47" y1="741.00" x2="142.47" y2="744.40" stroke="#000" stroke-width="1.3" />
<line x1="147.88" y1="741.00" x2="147.88" y2="747.00" stroke="#000" stroke-width="1.4" />
<line x1="153.29" y1="741.00" x2="153.29" y2="744.40" stroke="#000" stroke-width="1.3" />
<line x1="158.70" y1="741.00" x2="158.70" y2="744.40" stroke="#000" stroke-width="1.3" />
<line x1="164.10" y1="741.00" x2="164.10" y2="744.40" stroke="#000" stroke-width="1.3" />
<line x1="169.51" y1="741.00" x2="169.51" y2="744.40" stroke="#000" stroke-width="1.3" />
<line x1="174.92" y1="741.00" x2="174.92" y2="747.00" stroke="#000" stroke-width="1.4" />
<line x1="180.33" y1="741.00" x2="180.33" y2="744.40" stroke="#000" stroke-width="1.3" />
<line x1="185.74" y1="741.00" x2="185.74" y2="744.40" stroke="#000" stroke-width="1.3" />
<line x1="191.14" y1="741.00" x2="191.14" y2="744.40" stroke="#000" stroke-width="1.3" />
<line x1="196.55" y1="741.00" x2="196.55" y2="744.40" stroke="#000" stroke-width="1.3" />
<line x1="201.96" y1="741.00" x2="201.96" y2="747.00" stroke="#000" stroke-width="1.4" />
<line x1="207.37" y1="741.00" x2="207.37" y2="744.40" stroke="#000" stroke-width="1.3" />
<line x1="212.78" y1="741.00" x2="212.78" y2="744.40" stroke="#000" stroke-width="1.3" />
<line x1="218.18" y1="741.00" x2="218.18" y2="744.40" stroke="#000" stroke-width="1.3" />
<line x1="223.59" y1="741.00" x2="223.59" y2="744.40" stroke="#000" stroke-width="1.3" />
<line x1="229.00" y1="741.00" x2="229.00" y2="747.00" stroke="#000" stroke-width="1.4" />
<line x1="234.41" y1="741.00" x2="234.41" y2="744.40" stroke="#000" stroke-width="1.3" />
<line x1="239.82" y1="741.00" x2="239.82" y2="744.40" stroke="#000" stroke-width="1.3" />
<line x1="245.22" y1="741.00" x2="245.22" y2="744.40" stroke="#000" stroke-width="1.3" />
<line x1="250.63" y1="741.00" x2="250.63" y2="744.40" stroke="#000" stroke-width="1.3" />
<line x1="256.04" y1="741.00" x2="256.04" y2="747.00" stroke="#000" stroke-width="1.4" />
<line x1="261.45" y1="741.00" x2="261.45" y2="744.40" stroke="#000" stroke-width="1.3" />
<line x1="266.86" y1="741.00" x2="266.86" y2="744.40" stroke="#000" stroke-width="1.3" />
<line x1="272.26" y1="741.00" x2="272.26" y2="744.40" stroke="#000" stroke-width="1.3" />
<line x1="277.67" y1="741.00" x2="277.67" y2="744.40" stroke="#000" stroke-width="1.3" />
<line x1="283.08" y1="741.00" x2="283.08" y2="747.00" stroke="#000" stroke-width="1.4" />
<line x1="288.49" y1="741.00" x2="288.49" y2="744.40" stroke="#000" stroke-width="1.3" />
<line x1="293.90" y1="741.00" x2="293.90" y2="744.40" stroke="#000" stroke-width="1.3" />
<line x1="299.30" y1="741.00" x2="299.30" y2="744.40" stroke="#000" stroke-width="1.3" />
<line x1="304.71" y1="741.00" x2="304.71" y2="744.40" stroke="#000" stroke-width="1.3" />
<line x1="310.12" y1="741.00" x2="310.12" y2="747.00" stroke="#000" stroke-width="1.4" />
<line x1="315.53" y1="741.00" x2="315.53" y2="744.40" stroke="#000" stroke-width="1.3" />
<line x1="320.94" y1="741.00" x2="320.94" y2="744.40" stroke="#000" stroke-width="1.3" />
<line x1="326.34" y1="741.00" x2="326.34" y2="744.40" stroke="#000" stroke-width="1.3" />
<line x1="331.75" y1="741.00" x2="331.75" y2="744.40" stroke="#000" stroke-width="1.3" />
<line x1="337.16" y1="741.00" x2="337.16" y2="747.00" stroke="#000" stroke-width="1.4" />
<line x1="342.57" y1="741.00" x2="342.57" y2="744.40" stroke="#000" stroke-width="1.3" />
<line x1="347.98" y1="741.00" x2="347.98" y2="744.40" stroke="#000" stroke-width="1.3" />
<line x1="353.38" y1="741.00" x2="353.38" y2="744.40" stroke="#000" stroke-width="1.3" />
<line x1="358.79" y1="741.00" x2="358.79" y2="744.40" stroke="#000" stroke-width="1.3" />
<line x1="364.20" y1="741.00" x2="364.20" y2="747.00" stroke="#000" stroke-width="1.4" />
<line x1="369.61" y1="741.00" x2="369.61" y2="744.40" stroke="#000" stroke-width="1.3" />
<line x1="375.02" y1="741.00" x2="375.02" y2="744.40" stroke="#000" stroke-width="1.3" />
<line x1="380.42" y1="741.00" x2="380.42" y2="744.40" stroke="#000" stroke-width="1.3" />
<line x1="385.83" y1="741.00" x2="385.83" y2="744.40" stroke="#000" stroke-width="1.3" />
<line x1="391.24" y1="741.00" x2="391.24" y2="747.00" stroke="#000" stroke-width="1.4" />
<line x1="396.65" y1="741.00" x2="396.65" y2="744.40" stroke="#000" stroke-width="1.3" />
<line x1="402.06" y1="741.00" x2="402.06" y2="744.40" stroke="#000" stroke-width="1.3" />
<line x1="407.46" y1="741.00" x2="407.46" y2="744.40" stroke="#000" stroke-width="1.3" />
<line x1="412.87" y1="741.00" x2="412.87" y2="744.40" stroke="#000" stroke-width="1.3" />
<line x1="418.28" y1="741.00" x2="418.28" y2="747.00" stroke="#000" stroke-width="1.4" />
<line x1="423.69" y1="741.00" x2="423.69" y2="744.40" stroke="#000" stroke-width="1.3" />
<line x1="429.10" y1="741.00" x2="429.10" y2="744.40" stroke="#000" stroke-width="1.3" />
<line x1="434.50" y1="741.00" x2="434.50" y2="744.40" stroke="#000" stroke-width="1.3" />
<line x1="439.91" y1="741.00" x2="439.91" y2="744.40" stroke="#000" stroke-width="1.3" />
<line x1="445.32" y1="741.00" x2="445.32" y2="747.00" stroke="#000" stroke-width="1.4" />
<line x1="450.73" y1="741.00" x2="450.73" y2="744.40" stroke="#000" stroke-width="1.3" />
<line x1="456.14" y1="741.00" x2="456.14" y2="744.40" stroke="#000" stroke-width="1.3" />
<line x1="461.54" y1="741.00" x2="461.54" y2="744.40" stroke="#000" stroke-width="1.3" />
<line x1="466.95" y1="741.00" x2="466.95" y2="744.40" stroke="#000" stroke-width="1.3" />
<line x1="472.36" y1="741.00" x2="472.36" y2="747.00" stroke="#000" stroke-width="1.4" />
<line x1="477.77" y1="741.00" x2="477.77" y2="744.40" stroke="#000" stroke-width="1.3" />
<line x1="483.18" y1="741.00" x2="483.18" y2="744.40" stroke="#000" stroke-width="1.3" />
<line x1="488.58" y1="741.00" x2="488.58" y2="744.40" stroke="#000" stroke-width="1.3" />
<line x1="493.99" y1="741.00" x2="493.99" y2="744.40" stroke="#000" stroke-width="1.3" />
<line x1="499.40" y1="741.00" x2="499.40" y2="747.00" stroke="#000" stroke-width="1.4" />
<line x1="504.81" y1="741.00" x2="504.81" y2="744.40" stroke="#000" stroke-width="1.3" />
<line x1="510.22" y1="741.00" x2="510.22" y2="744.40" stroke="#000" stroke-width="1.3" />
<line x1="515.62" y1="741.00" x2="515.62" y2="744.40" stroke="#000" stroke-width="1.3" />
<line x1="521.03" y1="741.00" x2="521.03" y2="744.40" stroke="#000" stroke-width="1.3" />
<line x1="526.44" y1="741.00" x2="526.44" y2="747.00" stroke="#000" stroke-width="1.4" />
<line x1="531.85" y1="741.00" x2="531.85" y2="744.40" stroke="#000" stroke-width="1.3" />
<line x1="537.26" y1="741.00" x2="537.26" y2="744.40" stroke="#000" stroke-width="1.3" />
<line x1="542.66" y1="741.00" x2="542.66" y2="744.40" stroke="#000" stroke-width="1.3" />
<line x1="548.07" y1="741.00" x2="548.07" y2="744.40" stroke="#000" stroke-width="1.3" />
<line x1="553.48" y1="741.00" x2="553.48" y2="747.00" stroke="#000" stroke-width="1.4" />
<line x1="558.89" y1="741.00" x2="558.89" y2="744.40" stroke="#000" stroke-width="1.3" />
<line x1="564.30" y1="741.00" x2="564.30" y2="744.40" stroke="#000" stroke-width="1.3" />
<line x1="569.70" y1="741.00" x2="569.70" y2="744.40" stroke="#000" stroke-width="1.3" />
<line x1="575.11" y1="741.00" x2="575.11" y2="744.40" stroke="#000" stroke-width="1.3" />
<line x1="580.52" y1="741.00" x2="580.52" y2="747.00" stroke="#000" stroke-width="1.4" />
<line x1="585.93" y1="741.00" x2="585.93" y2="744.40" stroke="#000" stroke-width="1.3" />
<line x1="591.34" y1="741.00" x2="591.34" y2="744.40" stroke="#000" stroke-width="1.3" />
<line x1="596.74" y1="741.00" x2="596.74" y2="744.40" stroke="#000" stroke-width="1.3" />
<line x1="602.15" y1="741.00" x2="602.15" y2="744.40" stroke="#000" stroke-width="1.3" />
<line x1="607.56" y1="741.00" x2="607.56" y2="747.00" stroke="#000" stroke-width="1.4" />
<line x1="612.97" y1="741.00" x2="612.97" y2="744.40" stroke="#000" stroke-width="1.3" />
<line x1="618.38" y1="741.00" x2="618.38" y2="744.40" stroke="#000" stroke-width="1.3" />
<line x1="623.78" y1="741.00" x2="623.78" y2="744.40" stroke="#000" stroke-width="1.3" />
<line x1="629.19" y1="741.00" x2="629.19" y2="744.40" stroke="#000" stroke-width="1.3" />
<line x1="634.60" y1="741.00" x2="634.60" y2="747.00" stroke="#000" stroke-width="1.4" />
<line x1="640.01" y1="741.00" x2="640.01" y2="744.40" stroke="#000" stroke-width="1.3" />
<line x1="645.42" y1="741.00" x2="645.42" y2="744.40" stroke="#000" stroke-width="1.3" />
<line x1="650.82" y1="741.00" x2="650.82" y2="744.40" stroke="#000" stroke-width="1.3" />
<line x1="656.23" y1="741.00" x2="656.23" y2="744.40" stroke="#000" stroke-width="1.3" />
<line x1="661.64" y1="741.00" x2="661.64" y2="747.00" stroke="#000" stroke-width="1.4" />
<line x1="667.05" y1="741.00" x2="667.05" y2="744.40" stroke="#000" stroke-width="1.3" />
<line x1="672.46" y1="741.00" x2="672.46" y2="744.40" stroke="#000" stroke-width="1.3" />
<line x1="677.86" y1="741.00" x2="677.86" y2="744.40" stroke="#000" stroke-width="1.3" />
<line x1="683.27" y1="741.00" x2="683.27" y2="744.40" stroke="#000" stroke-width="1.3" />
<line x1="688.68" y1="741.00" x2="688.68" y2="747.00" stroke="#000" stroke-width="1.4" />
<line x1="694.09" y1="741.00" x2="694.09" y2="744.40" stroke="#000" stroke-width="1.3" />
<text x="81.60" y="755.60" font-size="11" fill="#000" font-weight="bold" textLength="22.00" lengthAdjust="spacingAndGlyphs">2.00</text>
<text x="135.68" y="755.60" font-size="11" fill="#000" font-weight="bold" textLength="22.00" lengthAdjust="spacingAndGlyphs">3.00</text>
<text x="189.76" y="755.60" font-size="11" fill="#000" font-weight="bold" textLength="22.00" lengthAdjust="spacingAndGlyphs">4.00</text>
<text x="243.84" y="755.60" font-size="11" fill="#000" font-weight="bold" textLength="22.00" lengthAdjust="spacingAndGlyphs">5.00</text>
<text x="297.92" y="755.60" font-size="11" fill="#000" font-weight="bold" textLength="22.00" lengthAdjust="spacingAndGlyphs">6.00</text>
<text x="352.00" y="755.60" font-size="11" fill="#000" font-weight="bold" textLength="22.00" lengthAdjust="spacingAndGlyphs">7.00</text>
<text x="406.08" y="755.60" font-size="11" fill="#000" font-weight="bold" textLength="22.00" lengthAdjust="spacingAndGlyphs">8.00</text>
<text x="460.16" y="755.60" font-size="11" fill="#000" font-weight="bold" textLength="22.00" lengthAdjust="spacingAndGlyphs">9.00</text>
<text x="511.14" y="755.60" font-size="11" fill="#000" font-weight="bold" textLength="28.20" lengthAdjust="spacingAndGlyphs">10.00</text>
<text x="565.22" y="755.60" font-size="11" fill="#000" font-weight="bold" textLength="28.20" lengthAdjust="spacingAndGlyphs">11.00</text>
<text x="619.30" y="755.60" font-size="11" fill="#000" font-weight="bold" textLength="28.20" lengthAdjust="spacingAndGlyphs">12.00</text>
<text x="673.38" y="755.60" font-size="11" fill="#000" font-weight="bold" textLength="28.20" lengthAdjust="spacingAndGlyphs">13.00</text>
<polyline points="64.3,617.0 65.0,616.2 65.8,619.0 66.3,628.0 67.5,631.0 69.8,638.7 71.5,646.0 72.5,649.0 73.5,653.5 74.8,656.5 76.0,662.0 77.0,664.3 78.0,667.2 79.0,670.1 80.5,673.0 81.6,677.6 82.7,681.2 83.8,682.8 85.0,686.0 86.0,688.8 87.0,690.0 88.3,691.4 89.5,690.5 90.8,688.0 91.8,683.0 92.5,680.5 93.0,680.2 93.6,684.0 94.5,688.0 95.5,690.8 96.6,692.3 97.8,693.7 99.0,695.0 100.1,695.7 101.2,697.9 102.2,699.6 103.1,698.5 104.0,700.3 105.0,700.0 106.2,699.8 107.4,700.3 108.6,701.6 109.7,702.1 110.8,700.8 111.9,702.3 113.0,701.0 114.0,700.7 114.9,699.7 115.9,699.5 116.8,699.7 117.8,699.7 119.5,695.0 120.6,688.6 122.0,684.0 123.3,680.0 123.9,666.0 124.4,640.0 125.0,605.0 125.6,595.0 126.2,594.4 126.8,600.0 127.4,612.0 128.0,624.0 129.0,645.0 129.9,660.9 131.0,679.0 132.6,692.3 134.5,697.5 135.9,700.0 138.2,701.6 141.0,704.0 142.0,704.8 143.3,702.3 144.1,702.7 145.4,702.3 146.1,701.9 146.9,706.0 148.2,705.2 149.4,706.2 150.3,702.6 151.5,705.3 152.2,704.9 153.0,703.5 153.9,702.5 154.5,703.1 155.3,706.3 156.0,706.4 156.7,703.5 157.9,705.7 158.8,702.0 159.7,703.6 161.0,702.7 161.8,706.1 162.5,703.8 163.6,705.5 164.3,702.0 164.9,706.3 165.7,705.4 166.9,703.5 167.7,706.5 168.7,703.1 169.8,703.4 170.6,701.9 171.8,706.3 172.8,706.5 173.4,703.1 174.4,706.5 175.6,703.8 176.4,704.0 177.3,706.4 178.1,705.8 179.2,705.9 180.3,704.9 181.2,703.5 182.0,705.8 182.7,703.0 183.8,703.2 184.4,702.2 185.4,703.6 186.7,706.3 188.0,703.3 188.7,702.5 189.6,705.5 190.5,703.2 191.4,705.1 192.5,705.7 193.7,705.3 194.4,706.2 195.2,704.9 196.0,705.7 196.8,703.4 197.5,702.9 198.8,705.0 199.6,704.1 200.9,704.6 201.6,706.1 202.7,706.9 203.4,704.5 204.5,706.2 205.8,702.4 206.6,702.8 207.3,706.8 208.3,706.6 209.2,706.3 210.1,703.4 211.3,706.7 211.9,705.0 213.0,703.2 213.8,702.8 214.6,703.4 215.6,705.3 216.3,702.2 217.2,705.4 217.9,703.6 218.6,706.0 219.6,702.4 220.3,704.0 221.3,705.2 221.9,702.9 223.0,704.1 223.8,703.6 225.1,703.6 226.1,703.8 227.0,706.3 228.3,703.9 229.0,705.6 229.7,702.1 231.0,704.1 232.2,704.1 233.4,704.3 234.1,702.2 235.1,705.2 236.3,702.5 237.3,703.9 238.3,702.8 239.1,704.6 240.3,702.6 241.3,705.9 242.6,703.0 243.3,706.6 244.5,704.4 245.2,706.5 246.0,706.4 247.1,706.0 247.8,705.8 248.5,704.0 249.7,706.0 250.5,703.1 251.3,704.5 252.2,702.6 253.0,705.5 254.2,702.2 255.2,705.7 255.8,706.1 256.5,704.9 257.5,705.0 258.3,704.0 259.3,704.1 260.4,704.2 261.3,702.1 262.3,704.4 263.1,705.7 264.2,704.2 265.0,704.3 265.6,702.6 266.5,702.4 267.4,704.4 268.1,705.0 268.7,705.5 269.9,704.4 270.5,704.4 271.4,706.5 272.1,706.1 273.4,705.5 274.5,702.9 275.8,704.3 277.1,706.4 277.8,705.7 279.1,702.3 279.9,705.6 280.6,706.3 281.4,705.9 282.1,704.4 283.4,702.9 284.1,704.4 285.0,702.1 285.7,702.7 287.0,705.2 288.2,702.7 289.3,702.5 290.3,705.0 291.2,706.1 292.1,704.7 293.4,702.4 294.7,704.9 295.5,705.7 296.3,706.7 297.3,703.6 298.5,704.0 299.2,705.5 299.8,705.8 300.6,705.0 301.9,704.7 302.9,703.4 303.5,702.0 304.2,704.8 305.2,704.3 306.4,702.5 307.1,705.0 307.8,701.9 308.6,702.4 309.5,702.9 310.5,704.7 311.2,704.9 312.1,702.5 313.4,703.0 314.1,702.3 315.1,706.0 316.3,703.8 317.1,701.9 318.1,704.5 319.0,704.9 319.9,706.3 321.0,703.0 322.2,702.0 323.2,703.8 324.0,702.1 325.1,701.9 326.1,706.3 326.8,702.8 327.8,704.2 328.9,705.7 329.6,703.3 330.4,702.0 331.6,705.5 332.7,701.8 333.9,705.3 334.8,705.3 335.8,702.8 336.4,702.8 337.1,703.3 338.2,705.0 339.4,705.1 340.2,704.3 341.1,705.4 342.0,702.9 343.1,706.2 343.8,705.8 344.4,702.8 345.2,705.1 346.5,705.1 347.3,705.7 348.1,702.6 349.4,704.5 350.5,704.6 351.7,703.7 352.9,704.8 354.1,703.5 355.2,704.1 356.1,702.4 357.1,701.7 358.3,702.0 358.9,701.8 360.2,702.9 360.9,701.4 361.5,704.6 362.6,704.6 363.7,701.5 364.7,702.9 365.9,705.1 367.1,701.5 368.3,705.5 369.6,701.6 370.3,701.6 370.9,705.2 372.1,704.1 373.3,704.1 374.1,701.5 374.7,704.7 375.5,702.6 376.4,701.1 377.2,702.3 378.3,702.7 379.1,705.6 380.0,705.0 381.1,701.1 382.0,703.0 383.1,702.6 384.2,703.5 384.9,705.0 385.6,704.8 386.3,700.8 387.1,704.5 388.4,700.8 389.3,703.1 390.5,701.6 391.4,702.4 392.6,702.0 393.8,702.1 394.6,704.1 395.5,701.2 396.6,701.0 397.7,704.0 398.9,703.6 399.7,702.5 400.6,704.8 401.3,704.8 401.9,701.5 402.7,704.8 403.6,702.3 404.9,701.5 405.8,702.9 406.9,703.9 408.0,701.9 408.8,701.0 410.0,703.3 411.1,700.9 412.0,703.8 413.0,700.6 413.9,704.2 414.7,700.9 415.5,703.3 416.7,700.6 417.4,701.0 418.2,702.3 418.9,701.4 419.7,704.4 420.8,700.2 422.1,700.1 422.9,704.3 424.1,703.1 425.0,700.5 426.0,700.0 426.8,701.3 427.4,701.3 428.6,702.7 429.5,702.4 430.4,700.0 431.5,701.2 432.6,703.5 433.5,701.9 434.6,701.1 435.4,702.5 436.6,702.7 437.7,703.1 438.7,702.0 439.7,700.4 440.7,699.3 441.6,702.5 442.7,701.8 443.5,700.7 444.4,701.7 445.3,701.9 446.5,699.5 447.6,702.3 448.5,700.8 449.0,700.4 450.3,696.0 451.2,682.0 451.9,665.0 452.5,661.4 453.2,662.0 454.0,668.0 455.0,678.0 456.2,690.0 457.5,696.5 459.3,699.0 461.0,700.2 462.5,698.0 463.5,698.6 464.6,702.3 465.6,698.2 466.6,700.3 467.7,700.2 468.7,701.7 469.7,699.7 471.0,698.7 472.1,699.6 473.2,698.3 474.5,699.4 475.1,699.0 476.0,697.7 476.9,699.7 478.0,699.3 478.8,698.7 479.9,702.1 480.8,698.7 482.0,699.5 482.8,698.2 483.9,701.5 484.9,699.8 485.9,698.6 487.2,699.2 488.3,701.5 489.4,699.8 490.2,700.1 490.9,701.5 491.8,701.6 492.6,699.3 493.3,699.5 494.1,697.5 495.2,698.8 495.9,698.9 496.9,699.5 497.9,700.6 498.8,701.9 500.0,697.7 501.2,701.7 502.3,698.0 503.5,700.4 504.1,697.4 505.4,700.5 506.1,697.8 506.8,698.4 508.0,699.0 508.7,701.6 509.8,698.1 511.1,700.2 512.2,700.5 513.4,701.0 514.6,698.2 515.7,699.8 516.8,699.3 518.1,699.8 518.8,698.3 519.5,699.5 520.2,699.4 520.9,699.5 521.8,699.7 523.0,697.2 524.2,699.4 525.2,700.3 526.4,698.9 527.3,701.7 527.9,700.1 529.0,697.2 530.0,700.3 531.3,698.6 532.6,699.5 533.5,701.3 534.1,700.4 535.2,698.6 536.4,698.7 537.3,699.5 538.4,698.0 539.3,699.0 540.3,700.9 541.1,700.9 542.0,699.3 542.8,699.3 544.1,700.0 545.2,698.4 546.1,698.3 547.1,699.9 548.2,697.0 549.3,701.1 550.3,697.0 551.1,696.8 551.9,701.2 552.9,699.9 554.0,701.1 555.1,699.6 556.1,700.0 557.1,699.9 557.9,699.8 558.8,700.2 559.5,697.4 560.1,700.2 561.3,699.6 562.2,700.4 563.3,699.1 564.1,697.9 565.0,697.9 565.9,699.4 567.2,696.6 568.2,696.5 568.8,700.2 569.8,700.7 570.8,696.3 571.6,699.0 572.9,700.9 573.8,698.1 574.5,699.2 575.2,696.8 575.8,696.1 576.9,696.6 578.2,696.4 579.4,696.6 580.0,699.4 580.8,699.5 581.5,696.2 582.7,699.3 583.9,699.4 584.5,698.9 585.6,698.0 586.9,697.0 588.1,699.2 588.8,695.8 589.8,699.6 590.5,697.2 591.6,696.4 592.8,697.9 593.4,697.3 594.4,697.7 595.5,696.2 596.7,697.2 597.7,698.5 598.6,697.3 599.8,699.9 600.9,697.8 601.7,695.0 603.0,697.6 604.2,695.4 605.2,698.1 606.4,695.8 607.2,694.7 608.4,693.9 609.2,694.5 610.2,690.0 610.9,672.0 611.6,640.0 612.4,605.0 613.2,575.0 613.9,558.0 614.3,556.6 614.8,560.0 615.5,580.0 616.3,605.0 617.2,626.0 618.3,640.0 619.3,651.0 620.3,657.0 621.5,663.0 623.0,669.0 624.0,670.9 624.9,675.3 626.0,678.0 627.0,681.0 628.0,682.1 629.0,686.0 630.0,689.0 631.0,689.0 631.8,690.6 632.6,690.2 633.4,690.0 634.2,690.1 635.0,691.0 636.5,693.0 637.7,694.0 638.5,690.3 639.3,692.3 640.3,694.1 641.5,690.6 642.7,694.2 643.9,693.1 644.7,694.5 645.9,693.7 647.1,692.2 647.8,693.2 648.9,691.6 650.1,695.0 650.8,693.6 651.9,693.0 652.7,692.0 653.8,694.5 654.7,691.3 655.9,694.5 656.6,693.7 657.9,695.1 658.8,693.3 659.8,692.0 660.6,692.0 661.7,692.9 662.7,693.1 663.6,692.0 664.2,695.9 665.1,691.8 666.2,695.0 666.9,694.1 667.7,693.8 668.3,691.6 669.6,695.5 670.6,694.1 671.3,695.2 672.2,696.0 673.4,695.4 674.6,692.9 675.3,692.6 676.0,692.1 676.6,694.3 677.8,693.9 679.1,696.1 679.8,694.6 680.6,692.5 681.9,693.2 682.9,695.0 684.2,695.1 685.0,694.2 685.8,696.6 687.0,693.2 687.7,693.4 688.5,696.4 689.8,696.1 690.4,695.9 691.5,695.3 692.8,692.7 693.5,695.9 694.7,695.6 695.5,695.2 696.7,693.0 697.5,693.8 698.2,694.8 698.9,693.7 699.6,695.8 700.2,696.0 700.9,692.9 702.2,693.8 703.5,696.8" fill="none" stroke="#000" stroke-width="1.3" stroke-linejoin="round"/>
<rect x="63.9" y="616.5" width="3.0" height="12.5" fill="#000"/>
<line x1="64.80" y1="618.50" x2="72.50" y2="611.80" stroke="#000" stroke-width="1.4" />
<line x1="80.20" y1="672.50" x2="86.80" y2="664.50" stroke="#000" stroke-width="1.4" />
<line x1="184.30" y1="694.20" x2="190.50" y2="701.50" stroke="#000" stroke-width="1.4" />
<line x1="215.50" y1="697.50" x2="216.50" y2="701.50" stroke="#000" stroke-width="1.4" />
<line x1="260.50" y1="695.50" x2="266.50" y2="701.00" stroke="#000" stroke-width="1.4" />
<line x1="276.00" y1="693.00" x2="281.50" y2="700.00" stroke="#000" stroke-width="1.4" />
<line x1="316.00" y1="693.50" x2="311.50" y2="699.50" stroke="#000" stroke-width="1.4" />
<line x1="578.00" y1="690.00" x2="582.00" y2="696.00" stroke="#000" stroke-width="1.4" />
<line x1="604.50" y1="689.50" x2="607.50" y2="695.00" stroke="#000" stroke-width="1.4" />
<text x="90.30" y="678.20" font-size="15" fill="#000" text-anchor="middle" font-weight="normal" >1</text>
<text x="116.50" y="673.30" font-size="15" fill="#000" text-anchor="middle" font-weight="normal" >2</text>
<text x="126.50" y="575.50" font-size="15" fill="#000" text-anchor="middle" font-weight="normal" >3</text>
<text x="447.90" y="632.80" font-size="15" fill="#000" text-anchor="middle" font-weight="normal" >4</text>
<text x="614.60" y="539.80" font-size="15" fill="#000" text-anchor="middle" font-weight="normal" >5</text>
<text x="66.10" y="610.60" font-size="10.5" fill="#000" font-weight="bold" textLength="18.50" lengthAdjust="spacingAndGlyphs">1.48</text>
<text x="80.90" y="661.40" font-size="10.5" fill="#000" font-weight="bold" textLength="18.50" lengthAdjust="spacingAndGlyphs">1.74</text>
<text x="115.00" y="592.10" font-size="10.5" fill="#000" font-weight="bold" textLength="21.30" lengthAdjust="spacingAndGlyphs">2.60</text>
<text x="170.10" y="692.20" font-size="10.5" fill="#000" font-weight="bold" textLength="20.90" lengthAdjust="spacingAndGlyphs">3.79</text>
<text x="191.50" y="698.80" font-size="10.5" fill="#000" font-weight="bold" textLength="21.00" lengthAdjust="spacingAndGlyphs">4.32</text>
<text x="213.00" y="698.80" font-size="10.5" fill="#000" font-weight="bold" textLength="20.50" lengthAdjust="spacingAndGlyphs">4.41</text>
<text x="240.10" y="698.60" font-size="10.5" fill="#000" font-weight="bold" textLength="20.90" lengthAdjust="spacingAndGlyphs">5.22</text>
<text x="262.40" y="692.20" font-size="10.5" fill="#000" font-weight="bold" textLength="20.90" lengthAdjust="spacingAndGlyphs">5.49</text>
<text x="286.00" y="698.60" font-size="10.5" fill="#000" font-weight="bold" textLength="20.30" lengthAdjust="spacingAndGlyphs">5.75</text>
<text x="310.20" y="691.40" font-size="10.5" fill="#000" font-weight="bold" textLength="21.20" lengthAdjust="spacingAndGlyphs">6.02</text>
<text x="357.00" y="695.80" font-size="10.5" fill="#000" font-weight="bold" textLength="20.30" lengthAdjust="spacingAndGlyphs">7.06</text>
<text x="384.20" y="696.60" font-size="10.5" fill="#000" font-weight="bold" textLength="20.30" lengthAdjust="spacingAndGlyphs">7.57</text>
<text x="413.40" y="696.10" font-size="10.5" fill="#000" font-weight="bold" textLength="18.10" lengthAdjust="spacingAndGlyphs">8.11</text>
<text x="442.70" y="657.40" font-size="10.5" fill="#000" font-weight="bold" textLength="20.30" lengthAdjust="spacingAndGlyphs">8.65</text>
<text x="478.80" y="693.60" font-size="10.5" fill="#000" font-weight="bold" textLength="19.50" lengthAdjust="spacingAndGlyphs">9.31</text>
<text x="509.40" y="693.20" font-size="10.5" fill="#000" font-weight="bold" textLength="19.50" lengthAdjust="spacingAndGlyphs">9.88</text>
<text x="529.00" y="693.20" font-size="10.5" fill="#000" font-weight="bold" textLength="22.80" lengthAdjust="spacingAndGlyphs">9.96</text>
<text x="554.80" y="691.70" font-size="10.5" fill="#000" font-weight="bold" textLength="23.80" lengthAdjust="spacingAndGlyphs">11.11</text>
<text x="581.60" y="686.50" font-size="10.5" fill="#000" font-weight="bold" textLength="24.40" lengthAdjust="spacingAndGlyphs">11.48</text>
<text x="602.00" y="554.60" font-size="10.5" fill="#000" font-weight="bold" textLength="24.40" lengthAdjust="spacingAndGlyphs">11.62</text>
<text x="678.20" y="689.60" font-size="10.5" fill="#000" font-weight="bold" textLength="24.40" lengthAdjust="spacingAndGlyphs">13.03</text>
<text x="43.0" y="824.2" font-size="16.5" fill="#000" transform="translate(43.0,0) scale(0.72,1) translate(-43.0,0)">E</text>
<line x1="111.50" y1="819.50" x2="556.90" y2="819.50" stroke="#000" stroke-width="1.1" />
<line x1="111.50" y1="847.50" x2="556.90" y2="847.50" stroke="#000" stroke-width="1.1" />
<line x1="111.50" y1="902.50" x2="556.90" y2="902.50" stroke="#000" stroke-width="1.1" />
<text x="174.80" y="839.20" font-size="16" fill="#111" text-anchor="middle" font-weight="normal" letter-spacing="0.4">Peak</text>
<text x="270.50" y="839.20" font-size="16" fill="#111" text-anchor="middle" font-weight="normal" letter-spacing="0.4">1</text>
<text x="333.20" y="839.20" font-size="16" fill="#111" text-anchor="middle" font-weight="normal" letter-spacing="0.4">2</text>
<text x="397.60" y="839.20" font-size="16" fill="#111" text-anchor="middle" font-weight="normal" letter-spacing="0.4">3</text>
<text x="461.20" y="839.20" font-size="16" fill="#111" text-anchor="middle" font-weight="normal" letter-spacing="0.4">4</text>
<text x="524.20" y="839.20" font-size="16" fill="#111" text-anchor="middle" font-weight="normal" letter-spacing="0.4">5</text>
<text x="174.80" y="866.60" font-size="16" fill="#111" text-anchor="middle" font-weight="normal" letter-spacing="0.4">RT, min</text>
<text x="270.50" y="866.60" font-size="16" fill="#111" text-anchor="middle" font-weight="normal" letter-spacing="0.4">1.99</text>
<text x="333.20" y="866.60" font-size="16" fill="#111" text-anchor="middle" font-weight="normal" letter-spacing="0.4">2.5</text>
<text x="397.60" y="866.60" font-size="16" fill="#111" text-anchor="middle" font-weight="normal" letter-spacing="0.4">2.6</text>
<text x="461.20" y="866.60" font-size="16" fill="#111" text-anchor="middle" font-weight="normal" letter-spacing="0.4">8.65</text>
<text x="524.20" y="866.60" font-size="16" fill="#111" text-anchor="middle" font-weight="normal" letter-spacing="0.4">11.62</text>
<text x="174.80" y="894.60" font-size="16" fill="#111" text-anchor="middle" font-weight="normal" letter-spacing="0.4">m/z [M-H]<tspan font-size="11" dy="-6">&#8722;</tspan></text>
<text x="270.50" y="894.60" font-size="16" fill="#111" text-anchor="middle" font-weight="normal" letter-spacing="0.4">197</text>
<text x="333.20" y="894.60" font-size="16" fill="#111" text-anchor="middle" font-weight="normal" letter-spacing="0.4">169</text>
<text x="397.60" y="894.60" font-size="16" fill="#111" text-anchor="middle" font-weight="normal" letter-spacing="0.4">153</text>
<text x="461.20" y="894.60" font-size="16" fill="#111" text-anchor="middle" font-weight="normal" letter-spacing="0.4">425</text>
<text x="524.20" y="894.60" font-size="16" fill="#111" text-anchor="middle" font-weight="normal" letter-spacing="0.4">301</text>
</svg>
</body></html>
